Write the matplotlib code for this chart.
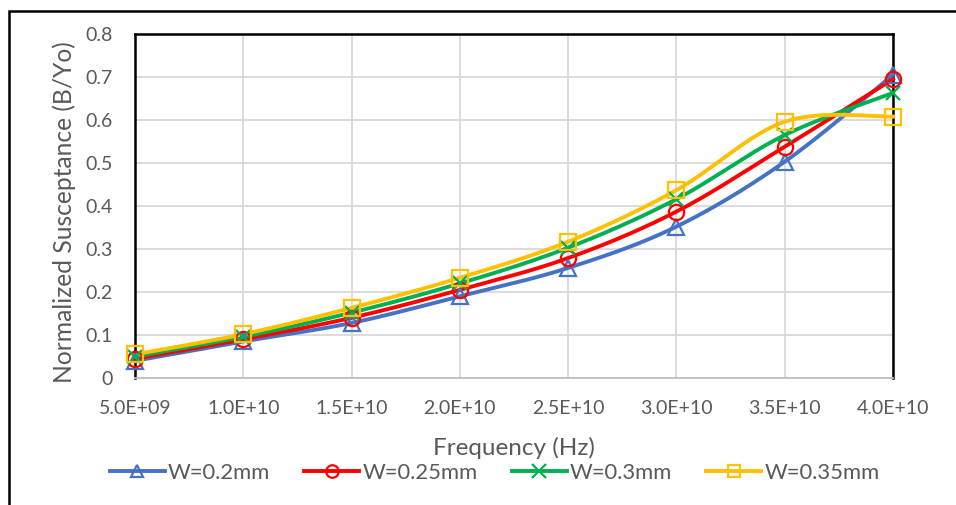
"""Normalized susceptance vs frequency for four strip widths (Excel-style smoothed lines)."""
import matplotlib.pyplot as plt
import numpy as np
from matplotlib.patches import Rectangle
from matplotlib.ticker import FuncFormatter, MultipleLocator

plt.rcParams["font.family"] = ["Lato", "DejaVu Sans"]

freq = [5e9, 1e10, 1.5e10, 2e10, 2.5e10, 3e10, 3.5e10, 4e10]
b_w020 = [0.040, 0.085, 0.128, 0.190, 0.256, 0.352, 0.503, 0.705]
b_w025 = [0.045, 0.090, 0.140, 0.205, 0.279, 0.387, 0.538, 0.695]
b_w030 = [0.050, 0.096, 0.152, 0.220, 0.303, 0.416, 0.565, 0.663]
b_w035 = [0.055, 0.102, 0.163, 0.233, 0.317, 0.437, 0.596, 0.608]
labels = ["W=0.2mm", "W=0.25mm", "W=0.3mm", "W=0.35mm"]

series = [
    (b_w020, "#4472C4", "^"),
    (b_w025, "#FF0000", "o"),
    (b_w030, "#00B050", "x"),
    (b_w035, "#FFC000", "s"),
]


def smooth(x, y, n=30):
    # Catmull-Rom via cubic Bezier, like Excel's "smoothed line"
    xs = np.asarray(x, float) / 1e10
    y = np.asarray(y, float)
    pts = np.column_stack([xs, y])
    pts = np.vstack([pts[:1], pts, pts[-1:]])
    t = np.linspace(0, 1, n)[:, None]
    segs = []
    for i in range(1, len(pts) - 2):
        p0, p3 = pts[i], pts[i + 1]
        p1 = p0 + (pts[i + 1] - pts[i - 1]) / 6
        p2 = p3 - (pts[i + 2] - pts[i]) / 6
        segs.append((1 - t) ** 3 * p0 + 3 * (1 - t) ** 2 * t * p1
                    + 3 * (1 - t) * t ** 2 * p2 + t ** 3 * p3)
    b = np.vstack(segs)
    return b[:, 0] * 1e10, b[:, 1]


fig = plt.figure(figsize=(9.56, 5.05), dpi=100)
ax = fig.add_axes([135 / 956, 1 - 378 / 505, (893 - 135) / 956, (378 - 34) / 505])

# outer chart border (cropped on the right and bottom)
fig.patches.append(Rectangle((8.5 / 956, -0.1), 1.2, (505 - 10.5) / 505 + 0.1,
                             transform=fig.transFigure, fill=False,
                             edgecolor="black", linewidth=1.8, zorder=0))

handles = []
for (vals, color, marker), lab in zip(series, labels):
    sx, sy = smooth(freq, vals)
    ax.plot(sx, sy, color=color, linewidth=2.8, zorder=3, clip_on=False)
    ax.plot(freq, vals, linestyle="none", marker=marker, markersize=11 if marker != "x" else 10,
            markerfacecolor="none", markeredgecolor=color, markeredgewidth=1.6,
            zorder=4, clip_on=False)
    h, = ax.plot([], [], color=color, linewidth=2.8, marker=marker,
                 markersize=9 if marker != "x" else 10,
                 markerfacecolor="none", markeredgecolor=color, markeredgewidth=1.6)
    handles.append(h)

ax.set_xlim(5e9, 4e10)
ax.set_ylim(0, 0.8)
ax.xaxis.set_major_locator(MultipleLocator(5e9))
ax.yaxis.set_major_locator(MultipleLocator(0.1))


def sci(v, _):
    m, e = f"{v:.1E}".split("E")
    return f"{m}E{e[0]}{int(e[1:]):02d}"


ax.xaxis.set_major_formatter(FuncFormatter(sci))
ax.yaxis.set_major_formatter(FuncFormatter(lambda v, _: "0" if abs(v) < 1e-9 else f"{v:.1f}"))

ax.grid(True, color="#D9D9D9", linewidth=1.3, zorder=0)
ax.set_axisbelow(True)
ax.tick_params(length=0, labelsize=14, colors="#595959")
ax.tick_params(axis="y", pad=16)
ax.tick_params(axis="x", pad=16)
for side in ("left", "top", "right"):
    ax.spines[side].set_color("black")
    ax.spines[side].set_linewidth(1.8)
ax.spines["bottom"].set_color("#BFBFBF")
ax.spines["bottom"].set_linewidth(1.3)

ax.set_xlabel("Frequency (Hz)", fontsize=17.5, color="#595959", va="center")
ax.xaxis.set_label_coords(0.5, (378 - 448) / 344)
ax.set_ylabel("Normalized Susceptance (B/Yo)", fontsize=17.7, color="#595959", va="center")
ax.yaxis.set_label_coords((64 - 135) / 758, (378 - 212) / 344)

fig.legend(handles, labels, loc="center left", bbox_to_anchor=(101 / 956, 1 - 473 / 505),
           borderaxespad=0, ncol=4, frameon=False, handlelength=2.5, handletextpad=0.15,
           columnspacing=1.55, labelcolor="#595959", fontsize=15.8)

fig.savefig("out.png", dpi=100)
